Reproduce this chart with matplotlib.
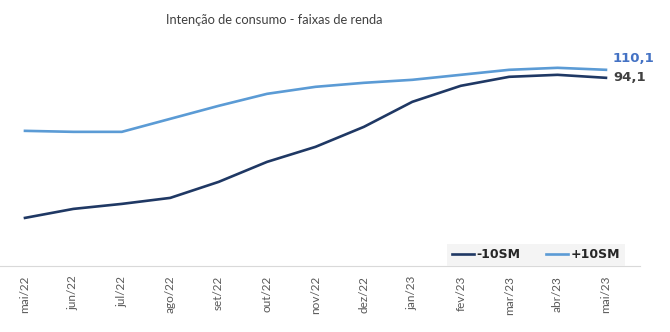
import matplotlib.pyplot as plt

meses = ['mai/22', 'jun/22', 'jul/22', 'ago/22', 'set/22', 'out/22', 'nov/22',
         'dez/22', 'jan/23', 'fev/23', 'mar/23', 'abr/23', 'mai/23']
menos10sm = [66.1, 67.9, 68.9, 70.1, 73.3, 77.3, 80.3, 84.3, 89.3, 92.5, 94.3, 94.7, 94.1]
mais10sm = [97.9, 97.7, 97.7, 100.3, 102.9, 105.3, 106.7, 107.5, 108.1, 109.1, 110.1, 110.5, 110.1]

cor_escura = '#1f3864'
cor_clara = '#5b9bd5'

fig = plt.figure(figsize=(6.7, 3.32), dpi=100)
ax = fig.add_axes([0, 0.199, 0.955, 0.651])
ax2 = ax.twinx()

x = list(range(len(meses)))
l1, = ax.plot(x, menos10sm, color=cor_escura, lw=1.9)
l2, = ax2.plot(x, mais10sm, color=cor_clara, lw=1.9)

ax.set_ylim(56.5, 99.7)
ax2.set_ylim(70.9, 114.1)
ax.set_xlim(-0.516, 12.70)

for a in (ax, ax2):
    for s in ['top', 'right', 'left']:
        a.spines[s].set_visible(False)
    a.set_yticks([])
ax2.spines['bottom'].set_visible(False)
ax.spines['bottom'].set_color('#d9d9d9')

ax.set_xticks(x)
ax.set_xticklabels(meses, rotation=90, fontsize=8.5, color='#595959', family='Lato')
ax.tick_params(axis='x', length=0, pad=7)

ax2.annotate(str(mais10sm[-1]).replace('.', ','), xy=(12, mais10sm[-1]), xytext=(5, 8),
             textcoords='offset points', color='#4472c4', fontsize=9.5, fontweight='bold',
             va='center', ha='left')
ax.annotate(str(menos10sm[-1]).replace('.', ','), xy=(12, menos10sm[-1]), xytext=(5, 0),
            textcoords='offset points', color='#404040', fontsize=9.5, fontweight='bold',
            va='center', ha='left')

fig.text(0.41, 0.94, 'Intenção de consumo - faixas de renda', ha='center', va='center',
         fontsize=9.3, color='#404040', family='Lato')

leg = fig.legend([l1, l2], ['-10SM', '+10SM'], loc='center', bbox_to_anchor=(0.80, 0.232),
                 ncol=2, frameon=True, fancybox=False, facecolor='#f2f2f2', edgecolor='none',
                 prop={'weight': 'bold', 'size': 9}, handlelength=1.8, handletextpad=0.2,
                 columnspacing=2.0, borderpad=0.35)
for t in leg.get_texts():
    t.set_color('#262626')

fig.savefig('out.png', dpi=100)
